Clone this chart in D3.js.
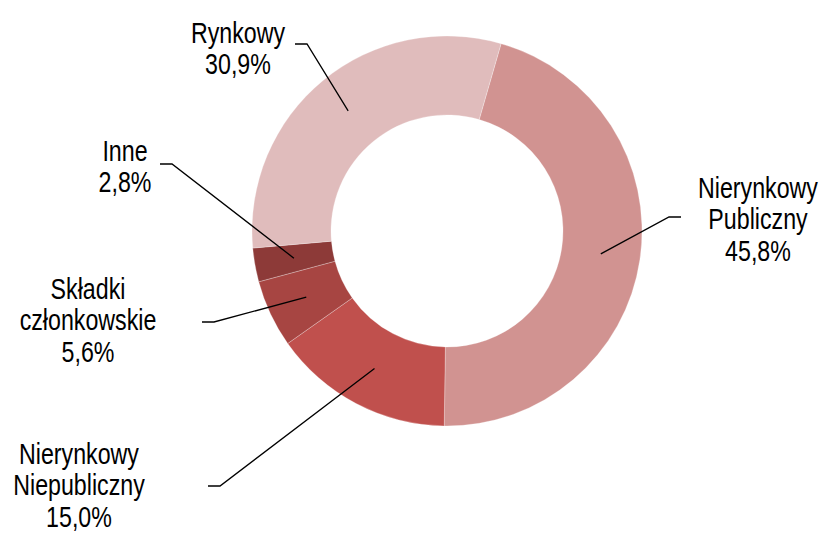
<!DOCTYPE html>
<html lang="pl">
<head>
  <meta charset="utf-8">
  <title>Struktura</title>
  <script src="https://d3js.org/d3.v7.min.js" charset="utf-8"></script>
  <style>
    body { margin: 0; background: #fff; }
    svg text { font-family: "Liberation Sans", Arial, sans-serif; font-size: 29px; fill: #000; }
  </style>
</head>
<body>
  <div class="chart"></div>

  <script type="text/javascript">
    var categories = ["Nierynkowy Publiczny", "Nierynkowy Niepubliczny", "Składki członkowskie", "Inne", "Rynkowy"];
    var labelLines = [["Nierynkowy", "Publiczny"], ["Nierynkowy", "Niepubliczny"], ["Składki", "członkowskie"], ["Inne"], ["Rynkowy"]];
    var shares = [45.8, 15.0, 5.6, 2.8, 30.9];
    var colors = ["#d19391", "#c0504d", "#a74542", "#8d3a38", "#e0bcbc"];

    // where each label block sits, and where its leader line bends
    var labelPos = [
      {x: 758, y: 198, ex: 681, ey: 217, dir: -1},
      {x: 79,  y: 464, ex: 208, ey: 486, dir: 1},
      {x: 88,  y: 299, ex: 202, ey: 322, dir: 1},
      {x: 125, y: 161, ex: 160, ey: 164, dir: 1},
      {x: 238, y: 43,  ex: 295, ey: 44,  dir: 1}
    ];

    var w = 823, h = 534,
        cx = 447, cy = 231,
        outerR = 195, innerR = 116,
        lineH = 31.5, tail = 12,
        narrow = 0.8; // no Arial Narrow here, so squeeze the regular face

    var svg = d3.select(".chart").append("svg")
      .attr("width", w)
      .attr("height", h);

    var rows = categories.map(function(c, i) { return {name: c, value: shares[i], i: i}; });

    var pie = d3.pie()
      .sort(null)
      .value(function(d) { return d.value; })
      .startAngle(16.1 * Math.PI / 180)
      .endAngle(16.1 * Math.PI / 180 + 2 * Math.PI);

    var arc = d3.arc().innerRadius(innerR).outerRadius(outerR);

    var g = svg.append("g").attr("transform", "translate(" + cx + "," + cy + ")");

    var arcs = pie(rows);

    g.selectAll("path.slice")
      .data(arcs)
      .enter().append("path")
        .attr("class", "slice")
        .attr("d", arc)
        .style("fill", function(d) { return colors[d.data.i]; })
        .style("stroke", "#fff")
        .style("stroke-opacity", 0.45)
        .style("stroke-width", 0.6);

    // leader lines
    arcs.forEach(function(d) {
      var p = labelPos[d.data.i];
      var c = arc.centroid(d);
      var pts = [
        [p.ex, p.ey],
        [p.ex + p.dir * tail, p.ey],
        [c[0] + cx, c[1] + cy]
      ];
      svg.append("path")
        .attr("d", d3.line()(pts))
        .style("fill", "none")
        .style("stroke", "#000")
        .style("stroke-width", 1.3);
    });

    // labels
    arcs.forEach(function(d) {
      var p = labelPos[d.data.i];
      var lines = labelLines[d.data.i].concat([d3.format(".1f")(d.data.value).replace(".", ",") + "%"]);
      var t = svg.append("text")
        .attr("text-anchor", "middle")
        .attr("transform", "translate(" + p.x + "," + p.y + ") scale(" + narrow + ",1)");
      lines.forEach(function(l, k) {
        t.append("tspan")
          .attr("x", 0)
          .attr("dy", k === 0 ? 0 : lineH)
          .text(l);
      });
    });
  </script>
</body>
</html>
